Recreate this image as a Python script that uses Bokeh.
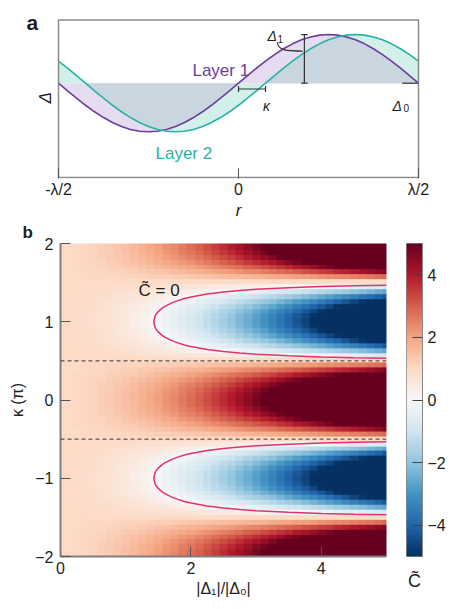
import numpy as np
from bokeh.plotting import figure
from bokeh.models import Label, Span, LinearColorMapper, FixedTicker
from bokeh.layouts import column, row
from bokeh.embed import file_html
from bokeh.resources import INLINE

FONT = "Liberation Sans"

# ---------------- panel a data (schematic, in units of Δ1 around Δ0) ----------------
r_pts = np.linspace(-0.5, 0.5, 41)          # r in units of λ
layer1 = [0, -0.156, -0.309, -0.454, -0.588, -0.707, -0.809, -0.891, -0.951, -0.988, -1.0,
          -0.988, -0.951, -0.891, -0.809, -0.707, -0.588, -0.454, -0.309, -0.156, 0,
          0.156, 0.309, 0.454, 0.588, 0.707, 0.809, 0.891, 0.951, 0.988, 1.0,
          0.988, 0.951, 0.891, 0.809, 0.707, 0.588, 0.454, 0.309, 0.156, 0]
layer2 = [0.454, 0.309, 0.156, 0, -0.156, -0.309, -0.454, -0.588, -0.707, -0.809, -0.891,
          -0.951, -0.988, -1.0, -0.988, -0.951, -0.891, -0.809, -0.707, -0.588, -0.454,
          -0.309, -0.156, 0, 0.156, 0.309, 0.454, 0.588, 0.707, 0.809, 0.891, 0.951,
          0.988, 1.0, 0.988, 0.951, 0.891, 0.809, 0.707, 0.588, 0.454]
kappa_shift = 0.075
x_tick_labels_a = {-0.5: "-λ/2", 0: "0", 0.5: "λ/2"}

# ---------------- panel b data ----------------
ratio_x = np.linspace(0, 5, 41)               # |Δ1|/|Δ0| sample positions
c_at_zero = 1.0                               # C̃ at |Δ1| = 0
ridge_amp = [0, 0.01, 0.04, 0.09, 0.15, 0.23, 0.31, 0.41, 0.52, 0.65, 0.78, 0.93, 1.09,
             1.26, 1.44, 1.63, 1.83, 2.04, 2.26, 2.49, 2.73, 2.98, 3.25, 3.52, 3.8, 4.08,
             4.38, 4.69, 5.01, 5.34, 5.67, 6.02, 6.37, 6.73, 7.1, 7.48, 7.88, 8.27, 8.68,
             9.09, 9.52]
kappa_half = [1, 0.981, 0.924, 0.831, 0.707, 0.556, 0.383, 0.195, 0, -0.195, -0.383,
              -0.556, -0.707, -0.831, -0.924, -0.981, -1]   # κ = 0 ... 1 (step 1/16)
contour_x = [1.43, 1.45, 1.47, 1.5, 1.55, 1.6, 1.7, 1.8, 1.9, 2.0, 2.25, 2.5, 2.75, 3.0,
             3.5, 4.0, 4.5, 5.0]
contour_w = [0, 0.07, 0.1, 0.13, 0.167, 0.196, 0.238, 0.27, 0.296, 0.316, 0.354, 0.381,
             0.4, 0.415, 0.436, 0.45, 0.459, 0.466]
contour_centers = [1, -1]
dash_levels = [0.5, -0.5]
y_ticks_b = [-2, -1, 0, 1, 2]
x_ticks_b = [0, 2, 4]
cbar_ticks = [-4, -2, 0, 2, 4]
c_low, c_high = -5, 5

# ---------------- colours ----------------
PURPLE = "#6a3d9f"
TEAL = "#27b3a3"
PURPLE_FILL = "#e6dcef"
TEAL_FILL = "#d3efea"
OVERLAP_FILL = "#c9d6e0"
FRAME = "#8a8a8a"
TXT = "#1e1e1e"
PINK = "#e5306e"

anchors = ["#053061", "#2166ac", "#4393c3", "#92c5de", "#d1e5f0", "#f7f7f7",
           "#fddbc7", "#f4a582", "#d6604d", "#b2182b", "#67001f"]
rgb = [tuple(int(h[i:i + 2], 16) for i in (1, 3, 5)) for h in anchors]
palette = []
for t in np.linspace(0, 1, 256):
    pos = t * 10
    i = min(int(pos), 9)
    f = pos - i
    c = [round(a + (b - a) * f) for a, b in zip(rgb[i], rgb[i + 1])]
    palette.append("#%02x%02x%02x" % tuple(c))
mapper = LinearColorMapper(palette=palette, low=c_low, high=c_high)


def label(fig, x, y, text, size, style="normal", color=TXT, align="left",
          baseline="alphabetic", dx=0, dy=0, angle=0):
    fig.add_layout(Label(x=x, y=y, x_offset=dx, y_offset=dy, text=text, text_font=FONT,
                         text_font_size=f"{size}px", text_font_style=style,
                         text_color=color, text_align=align, text_baseline=baseline,
                         angle=angle))


# ================= panel a =================
l1 = np.array(layer1)
l2 = np.array(layer2)
same = np.sign(l1) * np.sign(l2) > 0
overlap = np.where(same, np.sign(l1) * np.minimum(np.abs(l1), np.abs(l2)), 0.0)

pa = figure(width=450, height=222, x_range=(-0.5889, 0.5889), y_range=(-1.96, 1.7),
            output_backend="svg", toolbar_location=None, y_axis_location=None,
            min_border_left=26, min_border_right=0, min_border_top=0, min_border_bottom=39)
pa.varea(x=r_pts, y1=np.zeros_like(l1), y2=l1, fill_color=PURPLE_FILL)
pa.varea(x=r_pts, y1=np.zeros_like(l2), y2=l2, fill_color=TEAL_FILL)
pa.varea(x=r_pts, y1=np.zeros_like(l1), y2=overlap, fill_color=OVERLAP_FILL)
pa.line(r_pts, l1, line_color=PURPLE, line_width=1.6)
pa.line(r_pts, l2, line_color=TEAL, line_width=1.6)
pa.quad(left=[-0.5], right=[0.5], bottom=[-1.94], top=[1.3], fill_color=None,
        line_color=FRAME, line_width=1.5)

# Δ1 bar
bar_r = 0.183
cap = 0.009
pa.segment(x0=[bar_r, bar_r - cap, bar_r - cap], y0=[0, 1.0, 0],
           x1=[bar_r, bar_r + cap, bar_r + cap], y1=[1.0, 1.0, 0],
           line_color="#333333", line_width=1.2)
pa.bezier(x0=[0.108], y0=[0.84], x1=[0.178], y1=[0.66], cx0=[0.110], cy0=[0.68],
          cx1=[0.13], cy1=[0.66], line_color="#333333", line_width=1.1)
# κ bracket
pa.segment(x0=[0, 0, kappa_shift], y0=[-0.12, -0.18, -0.18],
           x1=[kappa_shift, 0, kappa_shift], y1=[-0.12, -0.06, -0.06],
           line_color="#333333", line_width=1.2)
# Δ0 mark
pa.segment(x0=[0.455], y0=[0], x1=[0.5], y1=[0], line_color="#555555", line_width=1.5)

pa.xaxis.ticker = FixedTicker(ticks=[-0.5, 0, 0.5])
pa.xaxis.major_label_overrides = x_tick_labels_a
pa.xaxis.major_tick_in = 10
pa.xaxis.major_tick_out = 0
pa.xaxis.minor_tick_line_color = None
pa.xaxis.major_tick_line_color = "#555555"
pa.xaxis.major_label_standoff = 2
pa.xaxis.axis_line_color = None
pa.xaxis.axis_label = "r"
pa.xaxis.axis_label_standoff = 0
pa.xaxis.major_label_text_font = FONT
pa.xaxis.major_label_text_font_size = "16px"
pa.xaxis.major_label_text_color = TXT
pa.xaxis.axis_label_text_font = FONT
pa.xaxis.axis_label_text_font_size = "17px"
pa.xaxis.axis_label_text_font_style = "italic"
pa.xaxis.axis_label_text_color = TXT
pa.grid.visible = False
pa.outline_line_color = None

label(pa, -0.128, 0.26, "Layer 1", 17, color=PURPLE)
label(pa, -0.2306, -1.44, "Layer 2", 17, color=TEAL)
label(pa, 0.0806, 0.96, "Δ", 14, "italic")
label(pa, 0.0806, 0.96, "1", 10, dx=10, dy=-3)
label(pa, 0.078, -0.46, "κ", 14, "italic", align="center")
label(pa, 0.428, -0.46, "Δ", 14, "italic")
label(pa, 0.428, -0.46, "0", 10, dx=11, dy=-2)
label(pa, -0.5889, 1.24, "a", 21, "bold")
label(pa, -0.536, -0.3, "Δ", 17, "italic", align="center", baseline="middle",
      angle=np.pi / 2)

# ================= panel b =================
half = np.array(kappa_half)
k_idx = np.arange(-32, 33)
m = np.abs(k_idx) % 32
m = np.where(m > 16, 32 - m, m)
profile = half[m]
C = c_at_zero + np.outer(profile, np.array(ridge_amp))

pb = figure(width=400, height=387, x_range=(0, 5), y_range=(-2, 2), title="b",
            output_backend="svg", toolbar_location=None,
            min_border_left=60, min_border_right=14, min_border_top=21, min_border_bottom=53)
pb.title.text_font = FONT
pb.title.text_font_size = "17px"
pb.title.text_font_style = "bold"
pb.title.text_color = TXT
pb.title.align = "left"
pb.title.offset = -38
pb.title.standoff = 0
pb.title.vertical_align = "top"

dx_cell = ratio_x[1] - ratio_x[0]
pb.image(image=[C], x=ratio_x[0] - dx_cell / 2, y=-2 - 1 / 32, dw=5 + dx_cell,
         dh=4 + 1 / 16, color_mapper=mapper)
for c in contour_centers:
    px = contour_x[::-1] + contour_x[1:]
    pk = [c + w for w in contour_w[::-1]] + [c - w for w in contour_w[1:]]
    pb.line(px, pk, line_color=PINK, line_width=1.5)
for lv in dash_levels:
    pb.add_layout(Span(location=lv, dimension="width", line_color="#333333",
                       line_width=1, line_dash="4 3"))

pb.yaxis.ticker = FixedTicker(ticks=y_ticks_b)
pb.yaxis.major_label_overrides = {t: (str(t).replace("-", "−")) for t in y_ticks_b}
pb.xaxis.ticker = FixedTicker(ticks=x_ticks_b)
pb.yaxis.axis_label = "κ (π)"
pb.xaxis.axis_label = "|Δ₁|/|Δ₀|"
pb.yaxis.axis_label_standoff = 6
pb.yaxis.major_label_standoff = 7
pb.xaxis.major_label_standoff = 5
pb.xaxis.axis_label_standoff = 3
for ax in (pb.xaxis[0], pb.yaxis[0]):
    ax.axis_line_color = "#7f7f7f"
    ax.axis_line_width = 2
    ax.major_tick_in = 10
    ax.major_tick_out = 0
    ax.major_tick_line_color = "#555555"
    ax.minor_tick_line_color = None
    ax.major_label_text_font = FONT
    ax.major_label_text_font_size = "16px"
    ax.major_label_text_color = TXT
    ax.axis_label_text_font = FONT
    ax.axis_label_text_font_size = "16px"
    ax.axis_label_text_font_style = "normal"
    ax.axis_label_text_color = TXT
pb.grid.visible = False
pb.outline_line_color = None

label(pb, 1.196, 1.40, "C\u0303 = 0", 17)

# ================= colour bar =================
grad = np.linspace(c_low, c_high, 256)[:, None]
pc = figure(width=50, height=387, x_range=(0, 1), y_range=(c_low, c_high),
            output_backend="svg", toolbar_location=None, y_axis_location="right",
            min_border_left=6, min_border_right=28, min_border_top=21, min_border_bottom=53)
pc.image(image=[grad], x=0, y=c_low, dw=1, dh=c_high - c_low, color_mapper=mapper)
pc.yaxis.ticker = FixedTicker(ticks=cbar_ticks)
pc.yaxis.major_label_overrides = {t: (str(t).replace("-", "−")) for t in cbar_ticks}
pc.yaxis.major_tick_in = 10
pc.yaxis.major_tick_out = 0
pc.yaxis.major_tick_line_color = "#444444"
pc.yaxis.minor_tick_line_color = None
pc.yaxis.axis_line_color = FRAME
pc.yaxis.major_label_standoff = 5
pc.yaxis.major_label_text_font = FONT
pc.yaxis.major_label_text_font_size = "16px"
pc.yaxis.major_label_text_color = TXT
pc.xaxis.ticker = FixedTicker(ticks=[])
pc.xaxis.axis_line_color = None
pc.xaxis.major_tick_line_color = None
pc.xaxis.minor_tick_line_color = None
pc.xaxis.major_label_standoff = 0
pc.xaxis.axis_label = "C\u0303"
pc.xaxis.axis_label_standoff = 14
pc.xaxis.axis_label_text_font = FONT
pc.xaxis.axis_label_text_font_size = "18px"
pc.xaxis.axis_label_text_font_style = "normal"
pc.xaxis.axis_label_text_color = TXT
pc.grid.visible = False
pc.outline_line_color = FRAME

layout = column(pa, row(pb, pc))
open("out.html", "w").write(file_html(layout, INLINE))
